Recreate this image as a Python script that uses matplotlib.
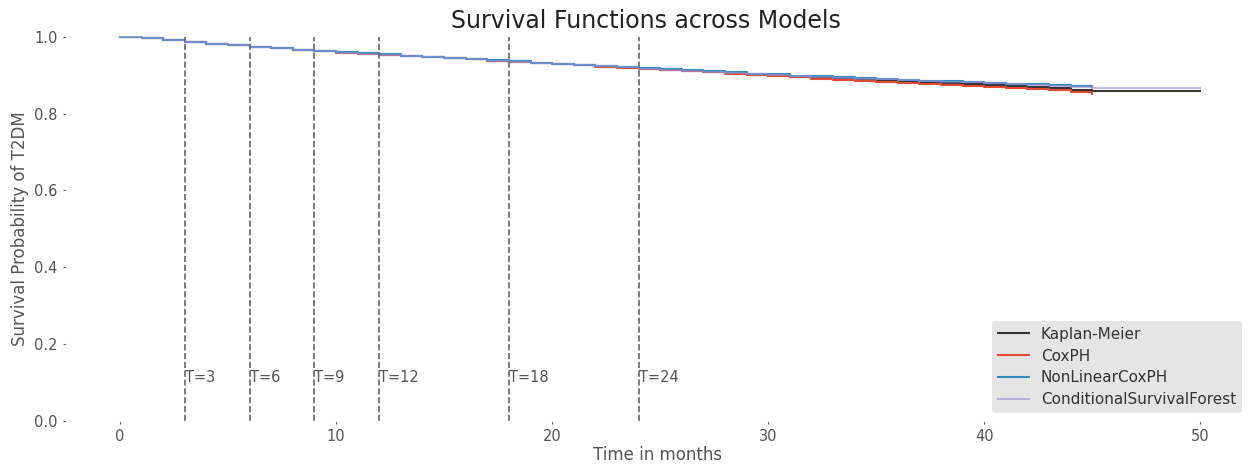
import matplotlib
matplotlib.use("Agg")
import matplotlib.pyplot as plt

plt.style.use('ggplot')

# ---- data ----
months = [0, 1, 2, 3, 4, 5, 6, 7, 8, 9, 10, 11, 12, 13, 14, 15, 16, 17, 18, 19,
          20, 21, 22, 23, 24, 25, 26, 27, 28, 29, 30, 31, 32, 33, 34, 35, 36, 37,
          38, 39, 40, 41, 42, 43, 44, 45]

km = [1.000, 0.997, 0.992, 0.986, 0.982, 0.978, 0.974, 0.970, 0.966, 0.962,
      0.959, 0.956, 0.953, 0.950, 0.947, 0.944, 0.941, 0.938, 0.935, 0.932,
      0.929, 0.926, 0.923, 0.920, 0.917, 0.914, 0.911, 0.908, 0.905, 0.902,
      0.899, 0.896, 0.893, 0.890, 0.888, 0.886, 0.884, 0.881, 0.879, 0.877,
      0.874, 0.872, 0.869, 0.866, 0.862, 0.858]
km_tail_time = 50
km_tail_value = 0.858

coxph = [1.000, 0.997, 0.992, 0.986, 0.982, 0.978, 0.974, 0.970, 0.966, 0.962,
         0.959, 0.956, 0.953, 0.950, 0.947, 0.944, 0.941, 0.938, 0.935, 0.932,
         0.929, 0.926, 0.922, 0.919, 0.916, 0.913, 0.910, 0.907, 0.904, 0.900,
         0.897, 0.894, 0.891, 0.888, 0.885, 0.882, 0.880, 0.877, 0.875, 0.872,
         0.870, 0.867, 0.864, 0.861, 0.857, 0.852]

nonlinear = [1.000, 0.997, 0.992, 0.986, 0.982, 0.978, 0.974, 0.970, 0.966, 0.963,
             0.960, 0.957, 0.954, 0.951, 0.948, 0.945, 0.942, 0.939, 0.936, 0.933,
             0.930, 0.927, 0.924, 0.921, 0.918, 0.915, 0.913, 0.910, 0.907, 0.904,
             0.902, 0.899, 0.897, 0.894, 0.892, 0.890, 0.888, 0.886, 0.884, 0.882,
             0.880, 0.878, 0.876, 0.874, 0.872, 0.870]

csf = [1.000, 0.997, 0.992, 0.986, 0.982, 0.978, 0.974, 0.970, 0.966, 0.962,
       0.959, 0.956, 0.953, 0.950, 0.947, 0.944, 0.941, 0.938, 0.935, 0.932,
       0.929, 0.926, 0.923, 0.920, 0.917, 0.914, 0.911, 0.909, 0.906, 0.903,
       0.900, 0.898, 0.895, 0.893, 0.891, 0.889, 0.887, 0.885, 0.883, 0.881,
       0.879, 0.877, 0.875, 0.873, 0.870, 0.867]
csf_tail_time = 50
csf_tail_value = 0.867

marker_times = [3, 6, 9, 12, 18, 24]
marker_labels = ["T=3", "T=6", "T=9", "T=12", "T=18", "T=24"]

# ---- plot ----
fig = plt.figure(figsize=(12.5, 4.67), dpi=100)
ax = fig.add_axes([0.0528, 0.0985, 0.9472, 0.826])
ax.set_facecolor('white')
ax.grid(False)

ax.step(months + [km_tail_time], km + [km_tail_value], where='post',
        color='#333333', lw=1.5, label='Kaplan-Meier')
ax.step(months, coxph, where='post', color='#E24A33', lw=1.5, label='CoxPH')
ax.step(months, nonlinear, where='post', color='#348ABD', lw=1.5, label='NonLinearCoxPH')
ax.step(months + [csf_tail_time], csf + [csf_tail_value], where='post',
        color='#988ED5', lw=1.5, alpha=0.6, label='ConditionalSurvivalForest')

ax.vlines(marker_times, 0, 1, colors='#666666', linestyles='dashed', lw=1.2)
for t, lab in zip(marker_times, marker_labels):
    ax.text(t, 0.1, lab, color='#555555', fontsize=10.5)

ax.set_xlim(-2.5, 52.3)
ax.set_ylim(-0.001, 1.004)
ax.set_xticks([0, 10, 20, 30, 40, 50])
ax.set_yticks([0.0, 0.2, 0.4, 0.6, 0.8, 1.0])
ax.tick_params(colors='#555555', labelsize=10.5, length=2, pad=4)
ax.set_xlabel('Time in months', color='#555555', fontsize=12, labelpad=1)
ax.set_ylabel('Survival Probability of T2DM', color='#555555', fontsize=12)
ax.set_title('Survival Functions across Models', fontsize=17, color='#222222',
             pad=5, x=0.49)

leg = ax.legend(loc='lower right', fontsize=11, facecolor='#E5E5E5',
                framealpha=1, edgecolor='none', labelspacing=0.45,
                labelcolor='#333333')

fig.savefig('out.png', dpi=100)
